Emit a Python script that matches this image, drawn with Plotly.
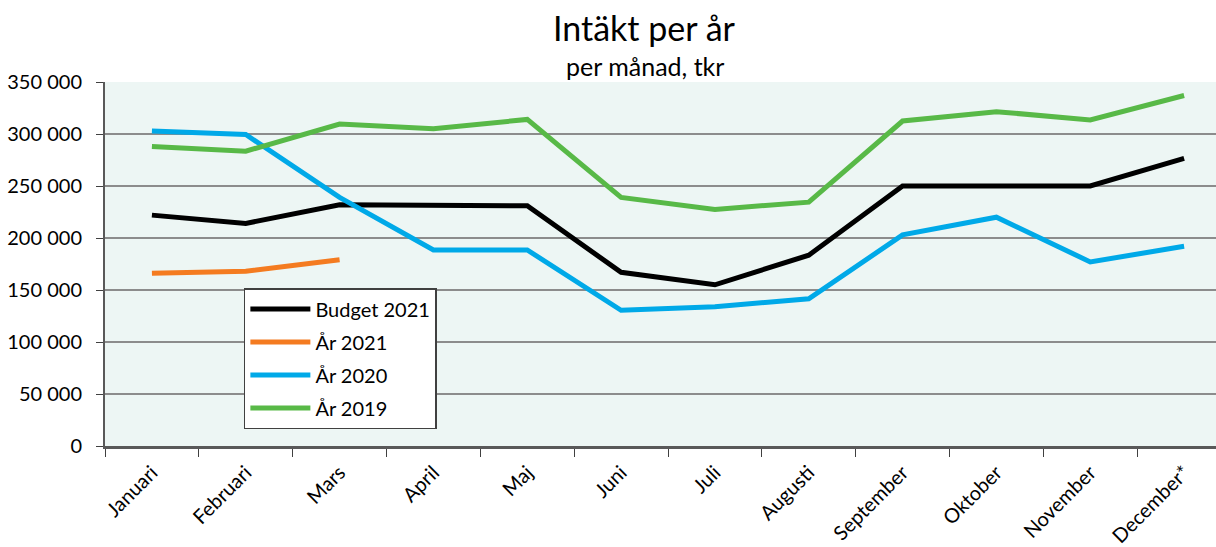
import plotly.graph_objects as go

# data
months = ["Januari", "Februari", "Mars", "April", "Maj", "Juni", "Juli",
          "Augusti", "September", "Oktober", "November", "December*"]
budget_2021 = [222000, 214000, 232000, 231000, 231000, 167000, 155000,
               183500, 250000, 250000, 250000, 276500]
ar_2021 = [166000, 168000, 179000]
ar_2020 = [303000, 299500, 239000, 188500, 188500, 130500, 134000,
           141500, 203000, 220000, 177000, 192000]
ar_2019 = [288000, 283500, 309500, 305000, 314000, 239000, 227500,
           234500, 312500, 321500, 313500, 337000]

FONT = "Lato, 'Noto Sans', sans-serif"

series = [
    ("Budget 2021", budget_2021, "#000000"),
    ("År 2021", ar_2021, "#F47B20"),
    ("År 2020", ar_2020, "#00A9E8"),
    ("År 2019", ar_2019, "#58B947"),
]

fig = go.Figure()
for name, vals, color in series:
    fig.add_trace(go.Scatter(x=months[:len(vals)], y=vals, mode="lines", name=name,
                             legendgroup=name,
                             line=dict(color=color, width=5)))

fig.update_layout(
    width=1216, height=547,
    margin=dict(l=105, r=0, t=82, b=101),
    paper_bgcolor="white", plot_bgcolor="#EDF6F4",
    font=dict(family=FONT, size=19, color="#000000"),
    separators=", ",
    showlegend=True,
    legend=dict(x=0.125, y=0.434, xanchor="left", yanchor="top",
                bgcolor="white", bordercolor="#404040", borderwidth=1.5,
                font=dict(size=20), itemwidth=60, tracegroupgap=4),
    xaxis=dict(type="category", categoryorder="array", categoryarray=months,
               range=[-0.5, 11.34], tickangle=-45, tickson="boundaries",
               ticks="outside", ticklen=8, tickcolor="#404040",
               showline=True, linecolor="#595959", linewidth=3,
               showgrid=False, automargin=False, ticklabelstandoff=4,
               tickfont=dict(size=20)),
    yaxis=dict(range=[0, 350000], dtick=50000, tickformat=",d",
               ticks="outside", ticklen=7, tickcolor="#404040",
               showline=True, linecolor="#595959", linewidth=2,
               gridcolor="#8C8C8C", gridwidth=2, zeroline=False,
               automargin=False, ticklabelstandoff=10,
               tickfont=dict(size=20)),
)

fig.add_annotation(text="Intäkt per år", xref="paper", yref="paper",
                   x=0.486, y=1.0, yshift=55, showarrow=False,
                   font=dict(size=34, family=FONT), yanchor="middle")
fig.add_annotation(text="per månad, tkr", xref="paper", yref="paper",
                   x=0.486, y=1.0, yshift=16, showarrow=False,
                   font=dict(size=25, family=FONT), yanchor="middle")

# drop the browser's default body margin so the figure sits at 0,0
fig.write_html("out.html", config={"displayModeBar": False},
               post_script="document.body.style.margin='0';")
